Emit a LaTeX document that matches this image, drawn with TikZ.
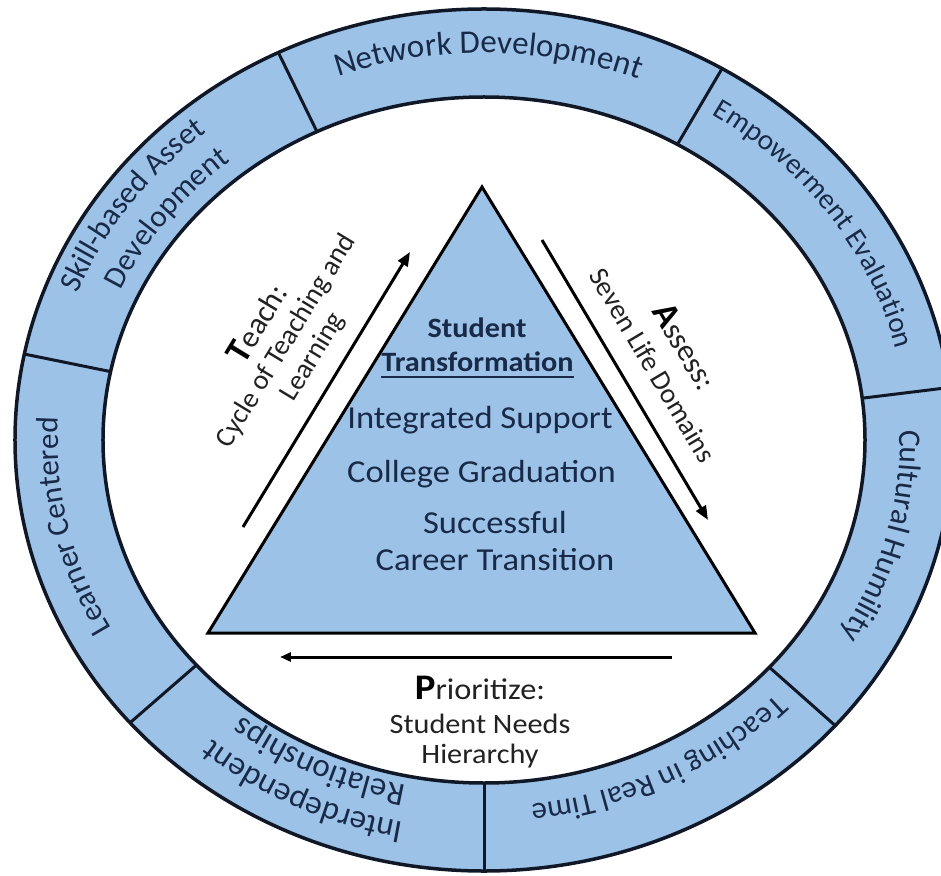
\documentclass[tikz,border=0pt]{standalone}
\usepackage{fontspec}
\setmainfont{Carlito}
\newfontfamily\anchafont[FakeStretch=1.08]{Carlito}
\usetikzlibrary{arrows.meta,decorations.text}

\definecolor{azul}{RGB}{157,194,231}
\definecolor{tinta}{RGB}{24,42,72}
\definecolor{borde}{RGB}{16,24,40}
\definecolor{gris}{RGB}{34,34,34}

\newcommand{\fuentetri}{\anchafont\fontsize{32}{36}\selectfont}
\newcommand{\fuentetrib}{\anchafont\bfseries\fontsize{28}{32}\selectfont}
\newcommand{\tamanio}[1]{\fontsize{#1}{#1}\selectfont}
\newcommand{\fuenteetiq}{\fontsize{28}{31}\selectfont}
\newcommand{\fuenteprior}{\anchafont\fontsize{28}{30}\selectfont}
\newcommand{\inicial}{\color{black}\bfseries\fontsize{36}{36}\selectfont}

\begin{document}
\begin{tikzpicture}[
        x=1pt, y=1pt,
        anillo/.style={fill=azul, draw=borde, line width=3.5pt, even odd rule},
        divisor/.style={draw=borde, line width=3pt},
        triangulo/.style={fill=azul, draw=black, line width=3pt},
        textoanillo/.style={decorate, decoration={text along path, text align=left, text color=tinta}},
        dentro/.style={text=tinta, inner sep=0pt, anchor=base, font=\fuentetri},
        flecha/.style={line width=3pt, -{Triangle[length=14pt, width=11pt]}},
        etiqueta/.style={text=gris, align=center, inner sep=0pt, font=\fuenteetiq}
    ]
        % Marco
        \useasboundingbox (-484,-435) rectangle (457,440);
        \clip (-484,-435) rectangle (457,440);
        \fill[white] (-484,-435) rectangle (457,440);

        % Anillo
        \path[anillo] (0,0) ellipse [x radius=469, y radius=431]
            (0,0) ellipse [x radius=381, y radius=343];

        % Divisiones del anillo
        \foreach \a in {168.5,116,59.5,7,-41.5,-90,-139}
            \draw[divisor] (\a:381 and 343) -- (\a:469 and 431);

        % Textos del anillo
        \path[textoanillo, decoration={text={|\tamanio{33}|Network Development}}]
            (110:425 and 387) arc [start angle=110, end angle=30, x radius=425, y radius=387];
        \path[textoanillo, decoration={text={|\tamanio{29}|Empowerment Evaluation}}]
            (57.5:424 and 386) arc [start angle=57.5, end angle=-22.5, x radius=424, y radius=386];
        \path[textoanillo, decoration={text={|\tamanio{31.5}|Cultural Humility}}]
            (1.5:416 and 378) arc [start angle=1.5, end angle=-78.5, x radius=416, y radius=378];
        \path[textoanillo, decoration={text={|\tamanio{31}|Teaching in Real Time}}]
            (-43.8:405 and 367) arc [start angle=-43.8, end angle=-123.8, x radius=405, y radius=367];
        \path[textoanillo, decoration={text={|\tamanio{33}|Interdependent}}]
            (-100.8:427 and 389) arc [start angle=-100.8, end angle=-180.8, x radius=427, y radius=389];
        \path[textoanillo, decoration={text={|\tamanio{33}|Relationships}}]
            (-101.5:390 and 352) arc [start angle=-101.5, end angle=-181.5, x radius=390, y radius=352];
        \path[textoanillo, decoration={text={|\tamanio{31}|Learner Centered}}]
            (209:426 and 388) arc [start angle=209, end angle=129, x radius=426, y radius=388];
        \path[textoanillo, decoration={text={|\tamanio{31}|Skill-based Asset}}]
            (158.5:437 and 399) arc [start angle=158.5, end angle=78.5, x radius=437, y radius=399];
        \path[textoanillo, decoration={text={|\tamanio{31}|Development}}]
            (155.5:399 and 361) arc [start angle=155.5, end angle=75.5, x radius=399, y radius=361];

        % Triangulo central
        \coordinate (cima) at (-2,253);
        \coordinate (izq) at (-276,-193);
        \coordinate (der) at (271,-193);
        \filldraw[triangulo] (cima) -- (der) -- (izq) -- cycle;

        % Texto del triangulo
        \node[dentro, font=\fuentetrib] (est) at (-7,102) {Student};
        \node[dentro, font=\fuentetrib] (transf) at (-6.5,68) {Transformation};
        \draw[tinta, line width=1.5pt]
            ([yshift=-5pt]transf.base west) -- ([yshift=-5pt]transf.base east);
        \node[dentro] (apoyo) at (-4,12) {Integrated Support};
        \node[dentro] (grad) at (-2.5,-42) {College Graduation};
        \node[dentro] (exito) at (11,-93) {Successful};
        \node[dentro] (carrera) at (11,-130) {Career Transition};

        % Flechas del ciclo
        \coordinate (teachA) at (-241,-87);
        \coordinate (teachB) at (-74,188);
        \coordinate (assessA) at (58,200);
        \coordinate (assessB) at (224,-80);
        \coordinate (priorA) at (188,-217);
        \coordinate (priorB) at (-204,-217);
        \draw[flecha] (teachA) -- (teachB);
        \draw[flecha] (assessA) -- (assessB);
        \draw[flecha, -{Triangle[length=11pt, width=9pt]}] (priorA) -- (priorB);

        % Etiquetas de las flechas
        \node[etiqueta, rotate=58.7] (ensenar) at (-199,100)
            {{\inicial T}{\tamanio{31}each:}\\Cycle of Teaching and\\Learning};
        \node[etiqueta, rotate=-59.3] (evaluar) at (186,85)
            {{\inicial A}{\tamanio{31}ssess:}\\[5pt]Seven Life Domains};
        \node[etiqueta, font=\fuenteprior] (priorizar) at (-4,-282)
            {{\inicial P}{\tamanio{30}rioritize:}\\[4pt]Student Needs\\Hierarchy};

    \end{tikzpicture}
\end{document}
